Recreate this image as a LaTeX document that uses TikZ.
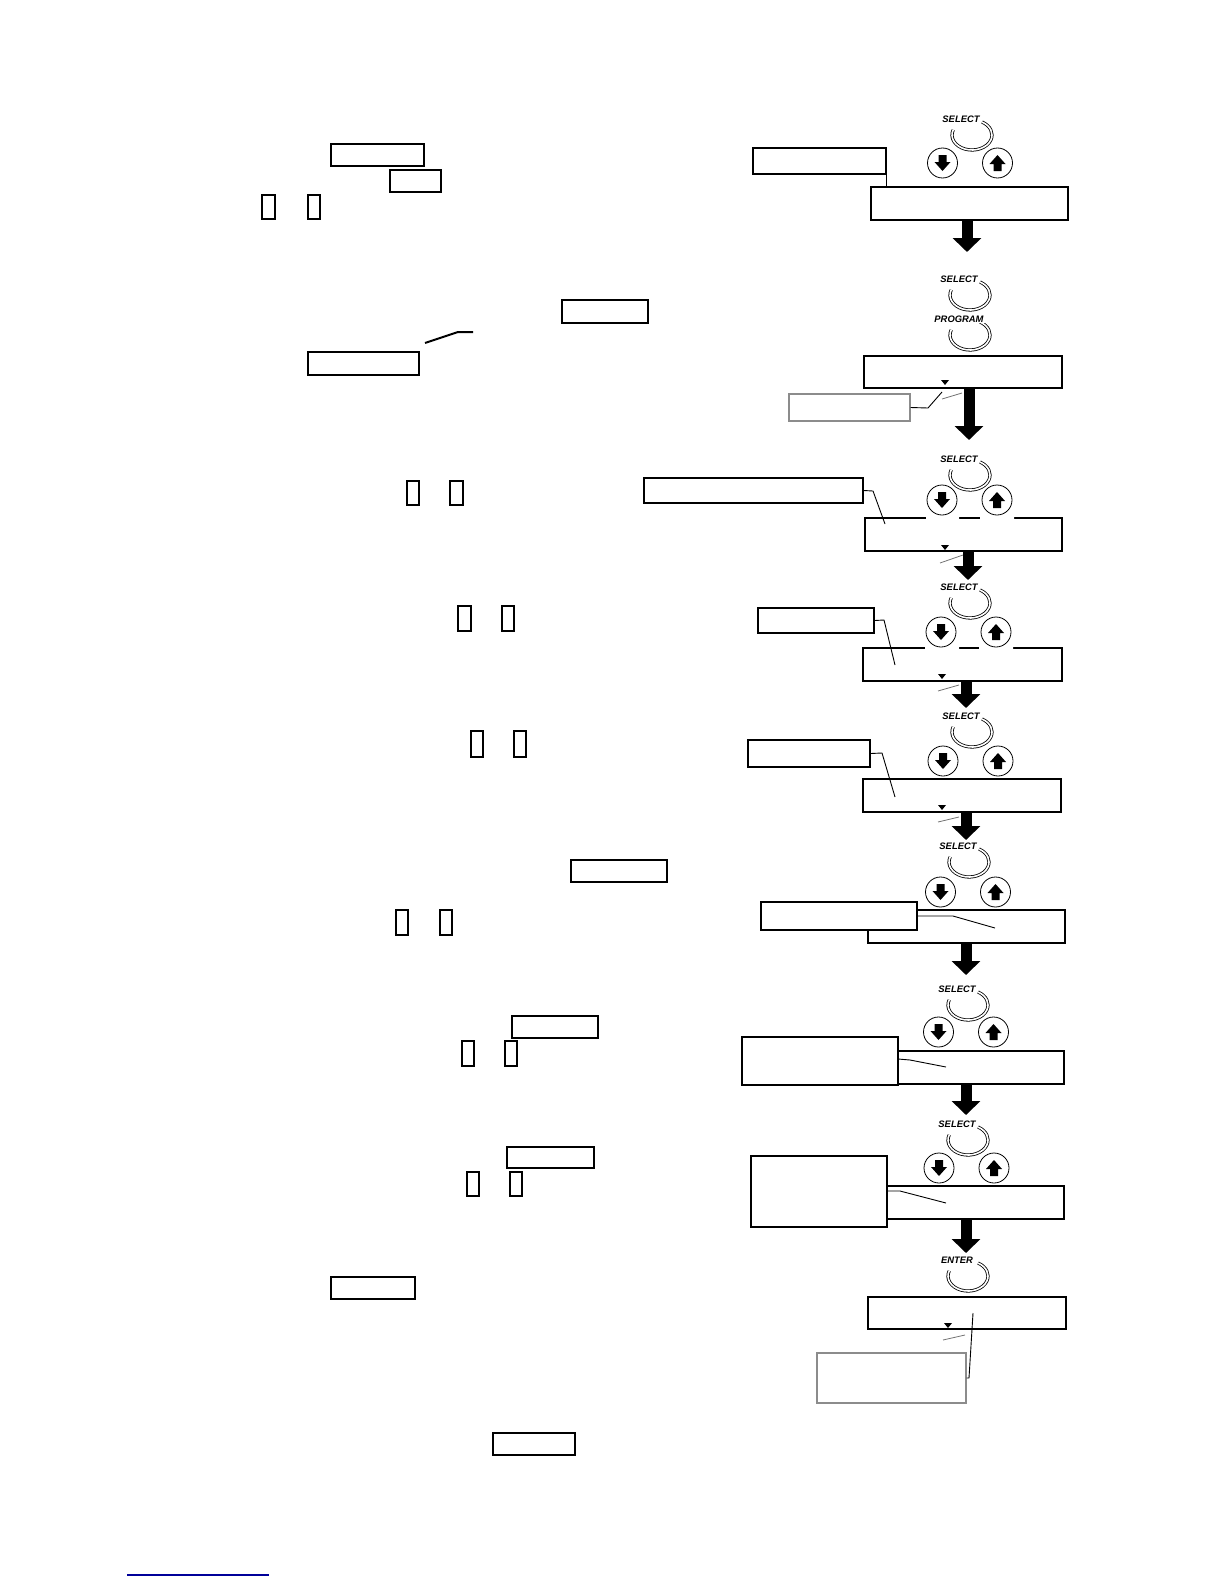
\documentclass[tikz,border=0pt]{standalone}
\usepackage{fontspec}
\setsansfont{Liberation Sans}
\usetikzlibrary{arrows.meta,fit}

\begin{document}
\begin{tikzpicture}[x=0.5pt, y=-0.5pt,
	box/.style={draw, line width=0.7pt, inner sep=0pt},
	tag/.style={box, fill=white, line width=0.6pt},
	lead/.style={line width=0.45pt},
	tick/.style={line width=0.4pt, black!55},
	flow/.style={line width=5.5pt, -{Triangle[width=14pt, length=7pt]}},
	keylbl/.style={font=\sffamily\bfseries\itshape\fontsize{4.7}{5}\selectfont, fill=white, inner sep=0.5pt},
	ring/.pic={
		\draw[double, line width=0.4pt, double distance=0.8pt] (160:10pt and 7.5pt) arc[start angle=160, end angle=420, x radius=10pt, y radius=7.5pt];
		\node[keylbl] (-lbl) at (-11,-16) {\tikzpictext};
	},
	keys/.pic={
		\foreach \s/\d in {-27.5/1, 27.5/-1} {
			\draw[fill=white, line width=0.4pt] (\s,0) circle (7.5pt);
			\fill[shift={(\s,0)}, yscale=\d] (-4,-8) -- (4,-8) -- (4,-1) -- (8,-1) -- (0,8) -- (-8,-1) -- (-4,-1) -- cycle;
		}
	},
	cursor/.pic={\fill (-4,-2) -- (4,-2) -- (0,3) -- cycle;}
]
	\useasboundingbox (0,0) rectangle (1224,1584);

	% step 1
	\pic[pic text=SELECT] (s1) at (972,135) {ring};
	\pic at (970,163) {keys};
	\node[box, fit={(871,187) (1068,220)}] (d1) {};
	\node[tag, fit={(753,148) (886,174)}] (b1) {};
	\draw[lead] (b1.north east) -- (b1.north east |- d1.north);
	\coordinate (t1) at (967,252);
	\draw[flow] (t1 |- d1.south) -- (t1);
	\node[box, fit={(331,144) (424,166)}] (p1a) {};
	\node[box, fit={(390,170) (441,192)}] (p1b) {};
	\node[box, fit={(262,195) (275,219)}] (k1a) {};
	\node[box, fit={(308,195) (320,219)}] (k1b) {};

	% step 2
	\pic[pic text=SELECT] (s2) at (970,295) {ring};
	\pic[pic text=PROGRAM] (r2) at (970,335) {ring};
	\node[box, fit={(864,356) (1062,388)}] (d2) {};
	\pic at (945,382) {cursor};
	\node[tag, draw=black!45, fit={(789,394) (910,421)}] (b2) {};
	\draw[lead] (b2.east) -- (928,408) -- (942,392);
	\draw[tick] (942,399) -- (962,393);
	\coordinate (t2) at (969,440);
	\draw[flow] (t2 |- d2.south) -- (t2);
	\node[box, fit={(562,300) (648,323)}] (p2a) {};
	\node[box, fit={(308,352) (419,375)}] (p2b) {};
	\draw[line width=1pt] (425,343) -- (458,332) -- (473,332);

	% step 3
	\pic[pic text=SELECT] (s3) at (970,475) {ring};
	\node[box, fit={(865,518) (1062,551)}] (d3) {};
	\fill[white] (926,515) rectangle (959,521) (980,515) rectangle (1014,521);
	\pic at (969.5,500) {keys};
	\node[tag, fit={(644,478) (863,503)}] (b3) {};
	\draw[lead] (b3.east) -- (873,491) -- (885,524);
	\pic at (945,547) {cursor};
	\draw[tick] (940,563) -- (963,555);
	\coordinate (t3) at (968,580);
	\draw[flow] (t3 |- d3.south) -- (t3);
	\node[box, fit={(407,481) (419,505)}] (k3a) {};
	\node[box, fit={(450,481) (463,505)}] (k3b) {};

	% step 4
	\pic[pic text=SELECT] (s4) at (970,603) {ring};
	\node[box, fit={(863,648) (1062,681)}] (d4) {};
	\fill[white] (925,645) rectangle (959,651) (979,645) rectangle (1013,651);
	\pic at (968.5,632) {keys};
	\node[tag, fit={(758,608) (874,633)}] (b4) {};
	\draw[lead] (b4.east) -- (884,620) -- (895,665);
	\pic at (942,676) {cursor};
	\draw[tick] (938,691) -- (959,685);
	\coordinate (t4) at (966,708);
	\draw[flow] (t4 |- d4.south) -- (t4);
	\node[box, fit={(458,606) (471,631)}] (k4a) {};
	\node[box, fit={(502,606) (514,631)}] (k4b) {};

	% step 5
	\pic[pic text=SELECT] (s5) at (972,732) {ring};
	\pic at (970.5,761) {keys};
	\node[box, fit={(863,779) (1061,812)}] (d5) {};
	\node[tag, fit={(748,740) (870,767)}] (b5) {};
	\draw[lead] (b5.east) -- (882,753) -- (895,797);
	\pic at (942,807) {cursor};
	\draw[tick] (938,822) -- (959,817);
	\coordinate (t5) at (966,840);
	\draw[flow] (t5 |- d5.south) -- (t5);
	\node[box, fit={(471,731) (483,757)}] (k5a) {};
	\node[box, fit={(514,731) (526,757)}] (k5b) {};

	% step 6
	\pic[pic text=SELECT] (s6) at (969,862) {ring};
	\pic at (968,892) {keys};
	\node[box, fit={(868,910) (1065,943)}] (d6) {};
	\node[tag, fit={(761,902) (917,930)}] (b6) {};
	\draw[lead] (917,916) -- (953,916) -- (995,928);
	\coordinate (t6) at (966,975);
	\draw[flow] (t6 |- d6.south) -- (t6);
	\node[box, fit={(571,860) (667,882)}] (p6) {};
	\node[box, fit={(396,910) (408,935)}] (k6a) {};
	\node[box, fit={(440,910) (452,935)}] (k6b) {};

	% step 7
	\pic[pic text=SELECT] (s7) at (968,1005) {ring};
	\pic at (966,1032) {keys};
	\node[box, fit={(868,1051) (1064,1084)}] (d7) {};
	\node[tag, fit={(742,1037) (898,1085)}] (b7) {};
	\draw[lead] (898,1059) -- (910,1060) -- (946,1067);
	\coordinate (t7) at (966,1115);
	\draw[flow] (t7 |- d7.south) -- (t7);
	\node[box, fit={(512,1016) (598,1038)}] (p7) {};
	\node[box, fit={(462,1041) (474,1066)}] (k7a) {};
	\node[box, fit={(505,1041) (517,1066)}] (k7b) {};

	% step 8
	\pic[pic text=SELECT] (s8) at (968,1140) {ring};
	\pic at (966.5,1168) {keys};
	\node[box, fit={(868,1186) (1064,1219)}] (d8) {};
	\node[tag, fit={(751,1156) (887,1227)}] (b8) {};
	\draw[lead] (887,1191) -- (900,1191) -- (946,1203);
	\coordinate (t8) at (966,1253);
	\draw[flow] (t8 |- d8.south) -- (t8);
	\node[box, fit={(507,1147) (594,1168)}] (p8) {};
	\node[box, fit={(467,1172) (479,1196)}] (k8a) {};
	\node[box, fit={(510,1172) (522,1196)}] (k8b) {};

	% step 9
	\pic[pic text=ENTER] (s9) at (968,1276) {ring};
	\node[box, fit={(868,1297) (1066,1329)}] (d9) {};
	\pic at (948,1325) {cursor};
	\draw[tick] (943,1340) -- (965,1335);
	\node[tag, draw=black!45, fit={(817,1353) (966,1403)}] (b9) {};
	\draw[lead] (b9.east) -- (969,1378) -- (973,1313);
	\node[box, fit={(331,1277) (415,1299)}] (p9) {};

	% last
	\node[box, fit={(493,1433) (575,1455)}] (p10) {};
	\draw[line width=1pt, blue!60!black] (127,1575) -- (269,1575);
\end{tikzpicture}
\end{document}
